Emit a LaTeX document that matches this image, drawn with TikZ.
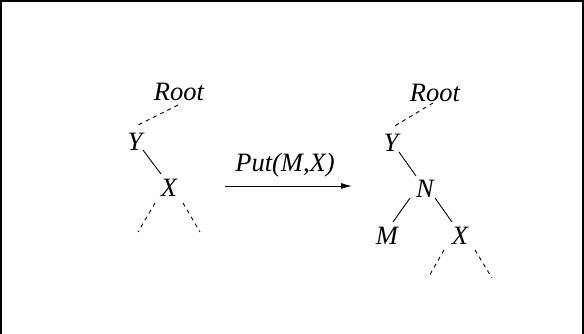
\documentclass[tikz,border=0pt]{standalone}
\usepackage{fontspec}
\setmainfont{Liberation Serif}
\usetikzlibrary{calc,arrows.meta}
\begin{document}
\begin{tikzpicture}[x=1pt,y=-1pt,
  lbl/.style={inner sep=0pt,font=\fontsize{26.5}{30}\selectfont\itshape},
  edge/.style={line width=0.9pt},
  dedge/.style={line width=0.9pt,dash pattern=on 4pt off 4pt}]
\clip (0,0) rectangle (584,333);
\draw[line width=2pt] (1,1) rectangle (583,360);
% left tree
\node[lbl] (rootL) at (179,92) {Root};
\node[lbl] (yL) at (135,142) {Y};
\node[lbl] (xL) at (169,188) {X};
\coordinate (xLl) at (138,232);
\coordinate (xLr) at (200,232);
\draw[dedge] ($(rootL)+(-1,13)$) -- ($(yL)+(3,-17)$);
\draw[edge] ($(yL)+(8,8)$) -- ($(xL)+(-8,-14)$);
\draw[dedge] ($(xL)+(-14,15)$) -- (xLl);
\draw[dedge] ($(xL)+(14,15)$) -- (xLr);
% arrow
\coordinate (arrS) at (225,186);
\coordinate (arrE) at (352,186);
\node[lbl] (put) at (285,165) {Put(M,X)};
\draw[edge,-{Latex[length=11pt,width=6pt]}] (arrS) -- (arrE);
% right tree
\node[lbl] (rootR) at (435,93) {Root};
\node[lbl] (yR) at (391,143) {Y};
\node[lbl] (nR) at (425,189) {N};
\node[lbl] (mR) at (387,236) {M};
\node[lbl] (xR) at (460,236) {X};
\coordinate (xRl) at (428,278);
\coordinate (xRr) at (492,278);
\draw[dedge] ($(rootR)+(-2,10)$) -- ($(yR)+(2,-16)$);
\draw[edge] ($(yR)+(8,9)$) -- ($(nR)+(-9,-13)$);
\draw[edge] ($(nR)+(-15,9)$) -- ($(mR)+(6,-14)$);
\draw[edge] ($(nR)+(10,9)$) -- ($(xR)+(-8,-14)$);
\draw[dedge] ($(xR)+(-16,14)$) -- (xRl);
\draw[dedge] ($(xR)+(15,14)$) -- (xRr);
\end{tikzpicture}
\end{document}
